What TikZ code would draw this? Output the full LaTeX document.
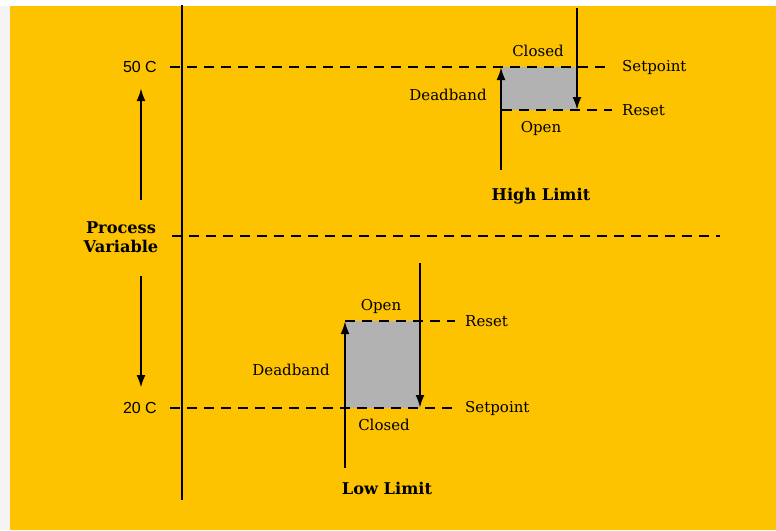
\documentclass[tikz,border=0pt]{standalone}
\usepackage{fontspec}
\setmainfont{DejaVu Serif}
\newfontfamily\chiffres{Liberation Sans}
\usetikzlibrary{arrows.meta}
\definecolor{jaune}{HTML}{FDC300}
\definecolor{gris}{HTML}{B2B2B2}
\definecolor{marge}{HTML}{F4F4F4}

\tikzset{
  etiq/.style={font=\fontsize{15}{17}\selectfont, inner sep=0pt},
  temp/.style={font=\chiffres\fontsize{16}{18}\selectfont, inner sep=0pt, anchor=east},
  titre/.style={font=\fontsize{16.2}{18.5}\selectfont\bfseries, inner sep=0pt, align=center},
  tirets/.style={line width=1.3pt, dash pattern=on 10pt off 7pt},
  fleche/.style={line width=2.4pt, -{Latex[length=13pt,width=9pt]}},
}

\begin{document}
\begin{tikzpicture}[x=1pt,y=-1pt]
% Fond
\fill[marge] (0,0) rectangle (776,530);
\fill[white] (0,0) rectangle (776,6);
\fill[jaune] (10,6) rectangle (776,530);
\useasboundingbox (0,0) rectangle (776,530);

% Axe vertical
\coordinate (axeH) at (182,5);
\coordinate (axeB) at (182,500);
\draw[line width=2.2pt] (axeH) -- (axeB);

% Variable de procede
\node[titre] (pv) at (121,237) {Process\\Variable};
\coordinate (pvH) at (141,88);
\coordinate (pvB) at (141,388);
\draw[fleche] (141,200) coordinate (pvh) -- (pvH);
\draw[fleche] (141,276) coordinate (pvb) -- (pvB);
\node[temp] (t50) at (157,67) {50 C};
\node[temp] (t20) at (157,408) {20 C};

% Limite haute
\fill[gris] (502,67) coordinate (hA) rectangle (577,110) coordinate (hB);
\coordinate (hs1) at (170,67);
\coordinate (hs2) at (610,67);
\coordinate (hr1) at (502,110);
\coordinate (hr2) at (612,110);
\draw[tirets] (hs1) -- (hs2);
\draw[tirets] (hr1) -- (hr2);
\coordinate (hm1) at (172,236);
\coordinate (hm2) at (720,236);
\draw[tirets] (hm1) -- (hm2);
\coordinate (hup) at (501,170);
\coordinate (hupT) at (501,67);
\coordinate (hdn) at (577,8);
\coordinate (hdnT) at (577,110);
\draw[fleche] (hup) -- (hupT);
\draw[fleche] (hdn) -- (hdnT);
\node[etiq, anchor=west] (hset) at (622,67) {Setpoint};
\node[etiq, anchor=west] (hres) at (622,110) {Reset};
\node[etiq] (hclo) at (538,51) {Closed};
\node[etiq] (hope) at (541,128) {Open};
\node[etiq] (hdb) at (448,95) {Deadband};
\node[titre] (hlim) at (541,196) {High Limit};

% Limite basse
\fill[gris] (345,321) coordinate (bA) rectangle (420,408) coordinate (bB);
\coordinate (bs1) at (170,408);
\coordinate (bs2) at (455,408);
\coordinate (br1) at (345,321);
\coordinate (br2) at (455,321);
\draw[tirets] (bs1) -- (bs2);
\draw[tirets] (br1) -- (br2);
\coordinate (bup) at (345,468);
\coordinate (bupT) at (345,321);
\coordinate (bdn) at (420,263);
\coordinate (bdnT) at (420,408);
\draw[fleche] (bup) -- (bupT);
\draw[fleche] (bdn) -- (bdnT);
\node[etiq, anchor=west] (bset) at (465,408) {Setpoint};
\node[etiq, anchor=west] (bres) at (465,321) {Reset};
\node[etiq] (bope) at (381,306) {Open};
\node[etiq] (bclo) at (384,425) {Closed};
\node[etiq] (bdb) at (291,370) {Deadband};
\node[titre] (blim) at (387,488) {Low Limit};
\end{tikzpicture}
\end{document}
